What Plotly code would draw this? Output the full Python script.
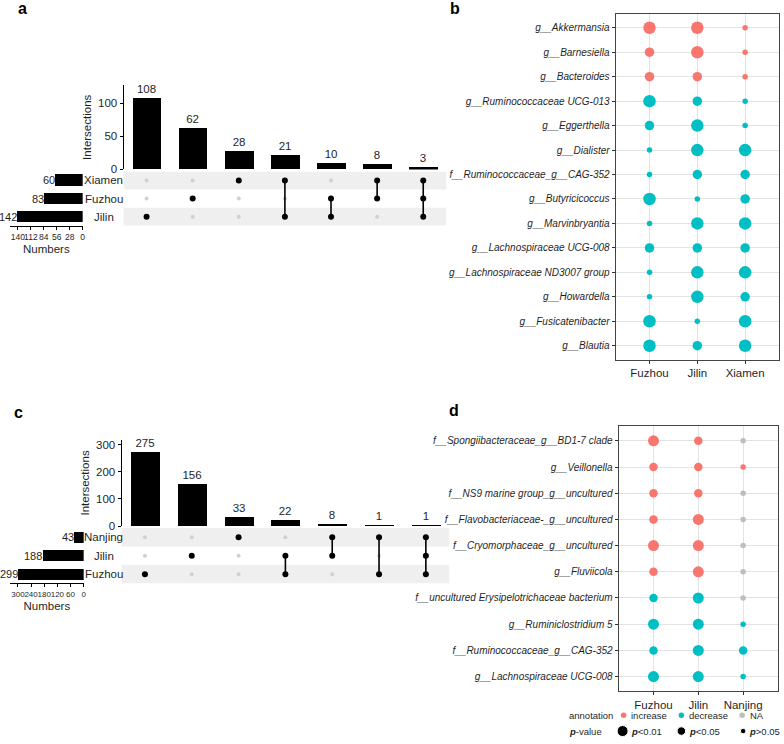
import plotly.graph_objects as go

W, H = 784, 744
FONT = "Liberation Sans, Arial, sans-serif"
TXT = "#1f1f1f"


def px_x(p):
    return p / W


def px_y(p):
    return 1 - p / H


# ---------------- Panel a (UpSet) ----------------
a_sets = ["Xiamen", "Fuzhou", "Jilin"]
a_set_sizes = [60, 83, 142]
a_inter_sizes = [108, 62, 28, 21, 10, 8, 3]
a_inter_members = [["Jilin"], ["Fuzhou"], ["Xiamen"], ["Xiamen", "Jilin"],
                   ["Fuzhou", "Jilin"], ["Xiamen", "Fuzhou"],
                   ["Xiamen", "Fuzhou", "Jilin"]]
a_size_ticks = [140, 112, 84, 56, 28, 0]
a_inter_ticks = [0, 50, 100]

# ---------------- Panel c (UpSet) ----------------
c_sets = ["Nanjing", "Jilin", "Fuzhou"]
c_set_sizes = [43, 188, 299]
c_inter_sizes = [275, 156, 33, 22, 8, 1, 1]
c_inter_members = [["Fuzhou"], ["Jilin"], ["Nanjing"], ["Jilin", "Fuzhou"],
                   ["Nanjing", "Jilin"], ["Nanjing", "Fuzhou"],
                   ["Nanjing", "Jilin", "Fuzhou"]]
c_size_ticks = [300, 240, 180, 120, 60, 0]
c_inter_ticks = [0, 100, 200, 300]

# ---------------- Panel b (bubble) ----------------
b_sites = ["Fuzhou", "Jilin", "Xiamen"]
b_taxa = ["g__Akkermansia", "g__Barnesiella", "g__Bacteroides",
          "g__Ruminococcaceae UCG-013", "g__Eggerthella", "g__Dialister",
          "f__Ruminococcaceae_g__CAG-352", "g__Butyricicoccus",
          "g__Marvinbryantia", "g__Lachnospiraceae UCG-008",
          "g__Lachnospiraceae ND3007 group", "g__Howardella",
          "g__Fusicatenibacter", "g__Blautia"]
b_annotation = [["increase"] * 3] * 3 + [["decrease"] * 3] * 11
b_pvalue = [
    ["p<0.01", "p<0.01", "p>0.05"],
    ["p<0.05", "p<0.01", "p>0.05"],
    ["p<0.05", "p<0.05", "p>0.05"],
    ["p<0.01", "p<0.05", "p>0.05"],
    ["p<0.05", "p<0.01", "p>0.05"],
    ["p>0.05", "p<0.01", "p<0.01"],
    ["p>0.05", "p<0.05", "p<0.05"],
    ["p<0.01", "p>0.05", "p<0.05"],
    ["p>0.05", "p<0.01", "p<0.01"],
    ["p<0.05", "p<0.05", "p<0.05"],
    ["p>0.05", "p<0.01", "p<0.01"],
    ["p>0.05", "p<0.01", "p<0.05"],
    ["p<0.01", "p>0.05", "p<0.01"],
    ["p<0.01", "p<0.05", "p<0.01"],
]

# ---------------- Panel d (bubble) ----------------
d_sites = ["Fuzhou", "Jilin", "Nanjing"]
d_taxa = ["f__Spongiibacteraceae_g__BD1-7 clade", "g__Veillonella",
          "f__NS9 marine group_g__uncultured",
          "f__Flavobacteriaceae-_g__uncultured",
          "f__Cryomorphaceae_g__uncultured", "g__Fluviicola",
          "f__uncultured Erysipelotrichaceae bacterium",
          "g__Ruminiclostridium 5", "f__Ruminococcaceae_g__CAG-352",
          "g__Lachnospiraceae UCG-008"]
d_annotation = [
    ["increase", "increase", "NA"],
    ["increase", "increase", "increase"],
    ["increase", "increase", "NA"],
    ["increase", "increase", "NA"],
    ["increase", "increase", "NA"],
    ["increase", "increase", "NA"],
    ["decrease", "decrease", "NA"],
    ["decrease", "decrease", "decrease"],
    ["decrease", "decrease", "decrease"],
    ["decrease", "decrease", "decrease"],
]
d_pvalue = [
    ["p<0.01", "p<0.05", "p>0.05"],
    ["p<0.05", "p<0.05", "p>0.05"],
    ["p<0.05", "p<0.05", "p>0.05"],
    ["p<0.05", "p<0.01", "p>0.05"],
    ["p<0.01", "p<0.01", "p>0.05"],
    ["p<0.05", "p<0.01", "p>0.05"],
    ["p<0.05", "p<0.01", "p>0.05"],
    ["p<0.01", "p<0.01", "p>0.05"],
    ["p<0.05", "p<0.01", "p<0.05"],
    ["p<0.01", "p<0.01", "p>0.05"],
]

legend_annotation = ["increase", "decrease", "NA"]
legend_pvalue = ["p<0.01", "p<0.05", "p>0.05"]

# ---------------- styles ----------------
ANNOT_COLOR = {"increase": "#F8766D", "decrease": "#00BFC4", "NA": "#BEBEBE"}
B_SIZE = {"p<0.01": 12.5, "p<0.05": 9.5, "p>0.05": 5.5}
D_SIZE = {"p<0.01": 11, "p<0.05": 8.5, "p>0.05": 5.5}

fig = go.Figure()
layout = {}
annotations = []
shapes = []


def sfx(n):
    return "" if n == 1 else str(n)


def add_upset(nb, nm, ns, sets, set_sizes, inter_sizes, members, size_ticks,
              inter_ticks, g):
    n = len(inter_sizes)
    xs = list(range(n))
    # intersection bars
    fig.add_trace(go.Bar(
        x=xs, y=inter_sizes, width=0.62, marker=dict(color="black", line=dict(width=0)),
        text=[str(v) for v in inter_sizes], textposition="outside",
        textfont=dict(size=11.5, color=TXT, family=FONT), cliponaxis=False,
        constraintext="none", xaxis="x" + sfx(nb), yaxis="y" + sfx(nb),
        showlegend=False, hoverinfo="skip"))
    layout["xaxis" + sfx(nb)] = dict(
        domain=[px_x(g["mx"][0]), px_x(g["mx"][1])], range=[-0.5, n - 0.5],
        visible=False, anchor="y" + sfx(nb))
    layout["yaxis" + sfx(nb)] = dict(
        domain=[px_y(g["by"][1]), px_y(g["by"][0])], range=[0, g["bmax"]],
        tickvals=inter_ticks, ticks="outside", ticklen=3, tickcolor="black",
        showline=True, linecolor="black", linewidth=1, showgrid=False,
        zeroline=False, tickfont=dict(size=11.5, color=TXT, family=FONT),
        title=dict(text="Intersections", font=dict(size=11.5, color=TXT, family=FONT),
                   standoff=4),
        anchor="x" + sfx(nb))
    # matrix
    nr = len(sets)
    for r in g["shaded"]:
        shapes.append(dict(type="rect", xref="paper", yref="y" + sfx(nm),
                           x0=px_x(g["mx"][0]), x1=px_x(g["mx"][1]),
                           y0=r - 0.5, y1=r + 0.5, fillcolor="#efefef",
                           line=dict(width=0), layer="below"))
    gx, gy, kx, ky = [], [], [], []
    for j, mem in enumerate(members):
        for r, s in enumerate(sets):
            if s in mem:
                kx.append(j)
                ky.append(r)
            else:
                gx.append(j)
                gy.append(r)
    fig.add_trace(go.Scatter(
        x=gx, y=gy, mode="markers", marker=dict(color="#d0d0d0", size=4, opacity=1),
        xaxis="x" + sfx(nm), yaxis="y" + sfx(nm), showlegend=False,
        hoverinfo="skip", cliponaxis=False))
    for j, mem in enumerate(members):
        rows = [sets.index(s) for s in mem]
        if len(rows) > 1:
            fig.add_trace(go.Scatter(
                x=[j, j], y=[min(rows), max(rows)], mode="lines",
                line=dict(color="black", width=1.6), xaxis="x" + sfx(nm),
                yaxis="y" + sfx(nm), showlegend=False, hoverinfo="skip"))
    fig.add_trace(go.Scatter(
        x=kx, y=ky, mode="markers", marker=dict(color="black", size=6, opacity=1),
        xaxis="x" + sfx(nm), yaxis="y" + sfx(nm), showlegend=False,
        hoverinfo="skip", cliponaxis=False))
    layout["xaxis" + sfx(nm)] = dict(
        domain=[px_x(g["mx"][0]), px_x(g["mx"][1])], range=[-0.5, n - 0.5],
        visible=False, anchor="y" + sfx(nm))
    layout["yaxis" + sfx(nm)] = dict(
        domain=[px_y(g["my"][1]), px_y(g["my"][0])], range=[nr - 0.5, -0.5],
        visible=False, anchor="x" + sfx(nm))
    # set size bars
    z, t, tv = g["sz"], g["st"], g["stv"]
    left_val = (z - g["sleft"]) * tv / (z - t)
    fig.add_trace(go.Bar(
        x=set_sizes, y=list(range(nr)), orientation="h", width=0.62,
        marker=dict(color="black", line=dict(width=0)),
        cliponaxis=False, xaxis="x" + sfx(ns), yaxis="y" + sfx(ns),
        showlegend=False, hoverinfo="skip"))
    for r, v in enumerate(set_sizes):
        annotations.append(dict(
            x=v, xref="x" + sfx(ns), y=r, yref="y" + sfx(ns), text=str(v),
            showarrow=False, xanchor="right", yanchor="middle", xshift=1,
            borderpad=0, font=dict(size=11, color=TXT, family=FONT)))
    layout["xaxis" + sfx(ns)] = dict(
        domain=[px_x(g["sleft"]), px_x(z)], range=[left_val, 0],
        tickvals=size_ticks, ticktext=[str(v) for v in size_ticks],
        tickangle=0, ticks="outside", ticklen=3, tickcolor="black", showline=True,
        linecolor="black", linewidth=1, showgrid=False, zeroline=False,
        tickfont=dict(size=g["stf"], color=TXT, family=FONT),
        title=dict(text="Numbers", font=dict(size=11.5, color=TXT, family=FONT), standoff=3),
        anchor="y" + sfx(ns))
    layout["yaxis" + sfx(ns)] = dict(
        domain=[px_y(g["my"][1]), px_y(g["my"][0])], range=[nr - 0.5, -0.5],
        visible=False, anchor="x" + sfx(ns))
    for r, s in enumerate(sets):
        annotations.append(dict(
            x=px_x(g["lx"]), xref="paper", y=r, yref="y" + sfx(ns), text=s,
            showarrow=False, xanchor="center", yanchor="middle",
            font=dict(size=11.5, color=TXT, family=FONT)))


def add_bubble(n, sites, taxa, annot, pval, sizes, g):
    xs, ys, cs, ss = [], [], [], []
    for r in range(len(taxa)):
        for c in range(len(sites)):
            xs.append(c)
            ys.append(r)
            cs.append(ANNOT_COLOR[annot[r][c]])
            ss.append(sizes[pval[r][c]])
    fig.add_trace(go.Scatter(
        x=xs, y=ys, mode="markers",
        marker=dict(color=cs, size=ss, opacity=1, line=dict(width=0)),
        xaxis="x" + sfx(n), yaxis="y" + sfx(n), showlegend=False, hoverinfo="skip"))
    nr, nc = len(taxa), len(sites)
    x0, x1 = g["x"]
    y0, y1 = g["y"]
    cx0, cx1 = g["cx"]
    ry0, ry1 = g["ry"]
    dx = (cx1 - cx0) / (nc - 1)
    dy = (ry1 - ry0) / (nr - 1)
    common = dict(showline=True, mirror=True, linecolor="#444444", linewidth=1,
                  showgrid=True, gridcolor="#e3e3e3", gridwidth=1, zeroline=False,
                  ticks="outside", ticklen=3, tickcolor="#333333")
    layout["xaxis" + sfx(n)] = dict(
        domain=[px_x(x0), px_x(x1)],
        range=[(x0 - cx0) / dx, (x1 - cx0) / dx],
        tickvals=list(range(nc)), ticktext=sites,
        tickfont=dict(size=11.5, color=TXT, family=FONT), anchor="y" + sfx(n), **common)
    layout["yaxis" + sfx(n)] = dict(
        domain=[px_y(y1), px_y(y0)],
        range=[(y1 - ry0) / dy, (y0 - ry0) / dy],
        tickvals=list(range(nr)), ticktext=["<i>%s</i>" % t for t in taxa],
        tickfont=dict(size=10, color=TXT, family=FONT), anchor="x" + sfx(n), **common)


add_upset(1, 2, 3, a_sets, a_set_sizes, a_inter_sizes, a_inter_members,
          a_size_ticks, a_inter_ticks,
          dict(mx=(124, 448), by=(85, 170), bmax=127, my=(172, 227),
               shaded=[0, 2], sz=83, st=18, stv=140, sleft=10, lx=104, stf=8.5))
add_bubble(4, b_sites, b_taxa, b_annotation, b_pvalue, B_SIZE,
           dict(x=(618, 782), y=(13, 362), cx=(652, 748), ry=(27, 348)))
add_upset(5, 6, 7, c_sets, c_set_sizes, c_inter_sizes, c_inter_members,
          c_size_ticks, c_inter_ticks,
          dict(mx=(122, 451), by=(443, 530), bmax=318.5, my=(532, 588),
               shaded=[0, 2], sz=84, st=18, stv=300, sleft=10, lx=104, stf=8))
add_bubble(8, d_sites, d_taxa, d_annotation, d_pvalue, D_SIZE,
           dict(x=(621, 781), y=(429, 697), cx=(656, 746), ry=(444, 682)))

# ---------------- legend for panel d (pixel-space helper axis) ----------------
LX0, LX1, LY0, LY1 = 560, 784, 710, 744
layout["xaxis9"] = dict(domain=[px_x(LX0), px_x(LX1)], range=[LX0, LX1],
                        visible=False, anchor="y9")
layout["yaxis9"] = dict(domain=[px_y(LY1), px_y(LY0)], range=[LY1, LY0],
                        visible=False, anchor="x9")
leg_ann_x = [626, 684, 745]
leg_p_x = [625, 684, 746]
fig.add_trace(go.Scatter(
    x=leg_ann_x, y=[721] * 3, mode="markers",
    marker=dict(color=[ANNOT_COLOR[a] for a in legend_annotation], size=5.5, opacity=1),
    xaxis="x9", yaxis="y9", showlegend=False, hoverinfo="skip", cliponaxis=False))
fig.add_trace(go.Scatter(
    x=leg_p_x, y=[737] * 3, mode="markers",
    marker=dict(color="black", size=[D_SIZE[p] for p in legend_pvalue], opacity=1),
    xaxis="x9", yaxis="y9", showlegend=False, hoverinfo="skip", cliponaxis=False))
lf = dict(size=9.5, color=TXT, family=FONT)
annotations.append(dict(x=570, y=721, xref="x9", yref="y9", text="annotation",
                        showarrow=False, xanchor="left", yanchor="middle",
                        borderpad=0, font=lf))
for xx, t in zip([632, 691, 752], legend_annotation):
    annotations.append(dict(x=xx, y=721, xref="x9", yref="y9", text=t,
                            showarrow=False, xanchor="left", yanchor="middle",
                            borderpad=0, font=lf))
annotations.append(dict(x=570, y=737, xref="x9", yref="y9",
                        text="<b><i>p</i></b>-value", showarrow=False,
                        xanchor="left", yanchor="middle", borderpad=0, font=lf))
for xx, t in zip([632, 691, 751], legend_pvalue):
    txt = "<b><i>p</i></b>" + t[1:].replace("<", "&lt;").replace(">", "&gt;")
    annotations.append(dict(x=xx, y=737, xref="x9", yref="y9", text=txt,
                            showarrow=False, xanchor="left", yanchor="middle",
                            borderpad=0, font=lf))

# ---------------- panel letters ----------------
for letter, xx, yy in [("a", 23, 8), ("b", 457, 8), ("c", 19, 415), ("d", 456, 413)]:
    annotations.append(dict(x=px_x(xx), y=px_y(yy), xref="paper", yref="paper",
                            text="<b>%s</b>" % letter, showarrow=False,
                            xanchor="center", yanchor="middle",
                            font=dict(size=16, color="black", family=FONT)))

fig.update_layout(
    width=W, height=H, autosize=False, margin=dict(l=0, r=0, t=0, b=0),
    paper_bgcolor="white", plot_bgcolor="white",
    font=dict(family=FONT, color=TXT), bargap=0,
    annotations=annotations, shapes=shapes, **layout)

fig.write_html("out.html",
               config={"displayModeBar": False},
               post_script="document.body.style.margin='0';"
                           "document.body.style.overflow='hidden';")
